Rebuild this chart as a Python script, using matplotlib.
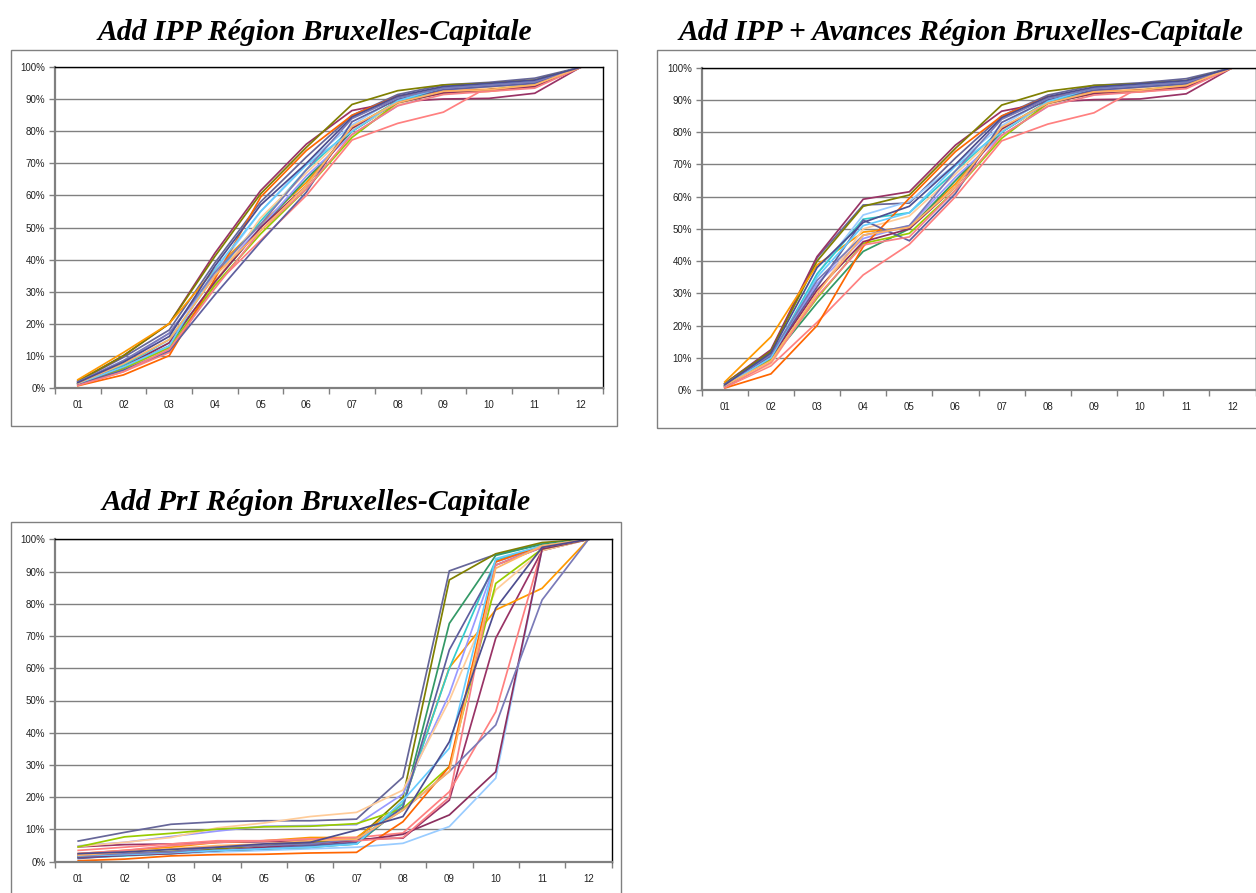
import matplotlib

matplotlib.use("Agg")
import matplotlib.pyplot as plt
from matplotlib.patches import Rectangle
from matplotlib.ticker import FixedLocator, FuncFormatter

MONTHS = ["01", "02", "03", "04", "05", "06", "07", "08", "09", "10", "11", "12"]

# one colour per commune, same order in every panel
COMMUNE_COLORS = [
    "#666699", "#993366", "#808000", "#FF9900", "#99CCFF", "#FF8080", "#339966",
    "#33CCCC", "#9999FF", "#FFCC99", "#99CC00", "#FF6600", "#5F5F9F", "#8B2F5F",
    "#66CCFF", "#F77F86", "#7A7AB8", "#FFB366", "#4D4D8F",
]

# cumulative share (%) per month, one row per commune
IPP = [
    [2.0, 9.5, 18, 39, 58, 72, 85, 91.5, 94.5, 95.3, 96.6, 100],
    [2.0, 10, 20, 42, 61.5, 76, 86.5, 89.3, 90.1, 90.3, 91.9, 100],
    [2.0, 10, 20, 41, 60.5, 75, 88.4, 92.7, 94.5, 95, 96, 100],
    [2.5, 11, 20, 37, 51, 64, 81, 89.5, 92, 92.5, 94, 100],
    [1.5, 7, 14, 36, 55, 70, 82, 90.5, 93.5, 94.5, 95.5, 100],
    [0.8, 5, 11, 32, 46, 60, 77.3, 82.5, 86, 94, 94.5, 100],
    [1.2, 6.5, 13, 33, 50, 65, 80, 89, 92.5, 93.5, 95, 100],
    [1.3, 7, 15, 35, 52, 68, 81, 89.5, 93, 94, 95, 100],
    [1.5, 8, 17, 35, 50, 66, 79, 88, 93, 94, 95, 100],
    [1.0, 6, 12, 33, 53, 67, 80.5, 88.5, 92.5, 93.5, 94.5, 100],
    [1.2, 6, 12.5, 32, 48, 62, 78.1, 89, 92, 93, 94.5, 100],
    [0.6, 4, 10, 34, 59.5, 74, 85, 91, 92.5, 93, 94, 100],
    [1.0, 5.5, 11.5, 29, 45.5, 61, 83, 90, 93, 94, 95, 100],
    [1.2, 6.5, 14, 33, 50, 63, 81, 89, 92, 93, 94, 100],
    [1.3, 6.5, 13, 37, 55, 69.5, 80, 89.5, 93.8, 94.8, 95.8, 100],
    [0.7, 5, 12, 31, 49, 62, 79, 88, 91.5, 92.5, 93.5, 100],
    [1.8, 8.5, 17, 36, 51, 68, 84, 90.5, 93.5, 94.5, 95.5, 100],
    [1.4, 7.5, 15, 35, 49, 63, 81.5, 89, 92.5, 93, 94.5, 100],
    [1.6, 8, 16, 38, 57, 70, 84.5, 91, 94, 95, 96, 100],
]

IPP_AVANCES = [
    [2.0, 12, 41, 57.4, 58, 72, 85, 91.5, 94.5, 95.3, 96.6, 100],
    [2.0, 12.5, 41.4, 59.2, 61.5, 76, 86.5, 89.3, 90.1, 90.3, 91.9, 100],
    [2.0, 12, 40, 57, 60.5, 75, 88.4, 92.7, 94.5, 95, 96, 100],
    [2.5, 16.5, 38.8, 49, 50.5, 64, 81, 89.5, 92, 92.5, 94, 100],
    [1.5, 10.5, 36, 54.3, 58.5, 70, 82, 90.5, 93.5, 94.5, 95.5, 100],
    [0.8, 7.5, 21, 35.7, 45.2, 60, 77.3, 82.5, 86, 94, 94.5, 100],
    [1.2, 9.5, 27, 43, 50, 65, 80, 89, 92.5, 93.5, 95, 100],
    [1.3, 10, 36, 53, 55, 68, 81, 89.5, 93, 94, 95, 100],
    [1.5, 11, 33, 47, 51, 66, 79, 88, 93, 94, 95, 100],
    [1.0, 8, 30, 50, 54, 67, 80.5, 88.5, 92.5, 93.5, 94.5, 100],
    [1.2, 9.5, 28.5, 45.5, 48.6, 62, 78.1, 89, 92, 93, 94.5, 100],
    [0.6, 5, 20, 44.5, 59.5, 74, 85, 91, 92.5, 93, 94, 100],
    [1.0, 10.5, 32, 52.7, 46.3, 61, 83, 90, 93, 94, 95, 100],
    [1.2, 10, 31, 46, 50, 63, 81, 89, 92, 93, 94, 100],
    [1.3, 10, 35, 51, 55, 69.5, 80, 89.5, 93.8, 94.8, 95.8, 100],
    [0.7, 8.5, 29, 45, 47.5, 62, 79, 88, 91.5, 92.5, 93.5, 100],
    [1.8, 11, 34, 48, 51, 68, 84, 90.5, 93.5, 94.5, 95.5, 100],
    [1.4, 9, 30, 48, 50.5, 63, 81.5, 89, 92.5, 93, 94.5, 100],
    [1.6, 11.5, 38, 52, 57, 70, 84.5, 91, 94, 95, 96, 100],
]

PRI = [
    [6.4, 9.1, 11.6, 12.4, 12.7, 12.7, 13.2, 26.2, 90.2, 95.3, 98.5, 100],
    [4.6, 5.3, 5.5, 6, 6.2, 6.5, 7, 7.3, 19.1, 69.3, 96.5, 100],
    [2.0, 2.5, 3.2, 4, 5, 6, 7, 20, 87.4, 95.5, 99, 100],
    [2.5, 3.5, 4.5, 6, 6.5, 7.5, 7.5, 18, 60.2, 78.1, 84.8, 100],
    [1.5, 2, 2.5, 3, 3.5, 4, 4.5, 5.7, 10.9, 25.9, 97, 100],
    [3.5, 4.5, 5.5, 6.5, 6.5, 7, 7.5, 8.9, 21.7, 46.5, 97, 100],
    [1.5, 2, 2.8, 3.5, 4, 4.5, 5.5, 17, 73.9, 95, 98.5, 100],
    [1.2, 1.8, 2.5, 3.5, 4.2, 5, 5.5, 18, 60, 93.5, 98, 100],
    [4.9, 6, 7.8, 9.5, 11, 11.2, 11.5, 21, 52, 93, 97.5, 100],
    [4.7, 6, 7.5, 10.5, 12, 14, 15.3, 22.2, 50, 84.3, 96.5, 100],
    [4.6, 7.7, 8.8, 10.1, 10.8, 11, 11.8, 16.5, 29.5, 86.3, 97, 100],
    [0.3, 0.8, 1.8, 2.2, 2.3, 2.7, 2.9, 12.4, 29.5, 93, 98, 100],
    [1.0, 2, 3, 3.5, 4, 5, 6, 17, 65.7, 92, 97.5, 100],
    [1.5, 2, 2.5, 3.5, 4.5, 5.5, 6.5, 8.5, 14.5, 27.9, 97, 100],
    [1.8, 2.2, 2.8, 3.5, 4, 4.5, 5.5, 19, 35.2, 94, 98, 100],
    [2.5, 3.5, 5, 6, 6.5, 7, 6.5, 7.5, 20, 92, 97.5, 100],
    [2.0, 2.5, 3, 4.5, 5, 5.5, 7, 16, 28, 42.4, 81.2, 100],
    [2.0, 3, 4, 5, 5.5, 6.5, 7, 16, 28, 91, 98, 100],
    [2.5, 3, 3.8, 4.5, 5.5, 6, 9.8, 14, 37.2, 78.6, 97.5, 100],
]

TITLES = [
    "Add IPP Région Bruxelles-Capitale",
    "Add IPP + Avances Région Bruxelles-Capitale",
    "Add PrI Région Bruxelles-Capitale",
]

W, H = 1256, 893
GRID = "#808080"


def px_box(left, top, right, bottom):
    # pixel box (origin top-left) -> figure fraction rect
    return [left / W, 1 - bottom / H, (right - left) / W, (bottom - top) / H]


def draw_panel(fig, rect, frame, title, title_xy, rows):
    fx0, fy0, fx1, fy1 = frame
    fig.add_artist(Rectangle((fx0 / W, 1 - fy1 / H), (fx1 - fx0) / W, (fy1 - fy0) / H,
                             transform=fig.transFigure, fill=False,
                             edgecolor=GRID, linewidth=1.0))
    fig.text(title_xy[0] / W, 1 - title_xy[1] / H, title,
             ha="center", va="center", fontsize=21.3, fontweight="bold",
             fontstyle="italic", family="Liberation Serif")

    ax = fig.add_axes(rect)
    x = list(range(len(MONTHS)))
    for vals, color in zip(rows, COMMUNE_COLORS):
        ax.plot(x, vals, color=color, linewidth=1.25, solid_joinstyle="miter")

    ax.set_xlim(-0.5, len(MONTHS) - 0.5)
    ax.set_ylim(0, 100)
    ax.yaxis.set_major_locator(FixedLocator(range(0, 101, 10)))
    ax.yaxis.set_major_formatter(FuncFormatter(lambda v, _: f"{int(v)}%"))
    ax.grid(axis="y", color=GRID, linewidth=1.0)
    ax.set_axisbelow(True)

    ax.set_xticks(x, MONTHS)
    ax.set_xticks([i - 0.5 for i in range(len(MONTHS) + 1)], minor=True)
    ax.tick_params(axis="x", which="major", length=0, pad=9, labelsize=7)
    ax.tick_params(axis="x", which="minor", length=4, width=1, color=GRID)
    ax.tick_params(axis="y", length=4, width=1, color=GRID, pad=3, labelsize=7)

    for side in ("top", "right"):
        ax.spines[side].set_color("black")
        ax.spines[side].set_linewidth(1.0)
    for side in ("left", "bottom"):
        ax.spines[side].set_color(GRID)
        ax.spines[side].set_linewidth(1.6)
    return ax


def main():
    plt.rcParams.update({
        "font.family": ["Liberation Sans", "DejaVu Sans"],
        "text.color": "black",
        "xtick.labelcolor": "#222222",
        "ytick.labelcolor": "#222222",
    })
    fig = plt.figure(figsize=(W / 100, H / 100), dpi=100)

    draw_panel(fig, px_box(55, 67.3, 603.3, 387.7), (10.7, 50, 616.7, 425.6),
               TITLES[0], (315, 32), IPP)
    draw_panel(fig, px_box(701.7, 67.7, 1255.5, 390), (657, 50, 1300, 427.7),
               TITLES[1], (961, 32), IPP_AVANCES)
    draw_panel(fig, px_box(55, 539.3, 611.7, 861.7), (10.7, 521.7, 621, 920),
               TITLES[2], (316, 503), PRI)

    fig.savefig("out.png", dpi=100)


if __name__ == "__main__":
    main()
